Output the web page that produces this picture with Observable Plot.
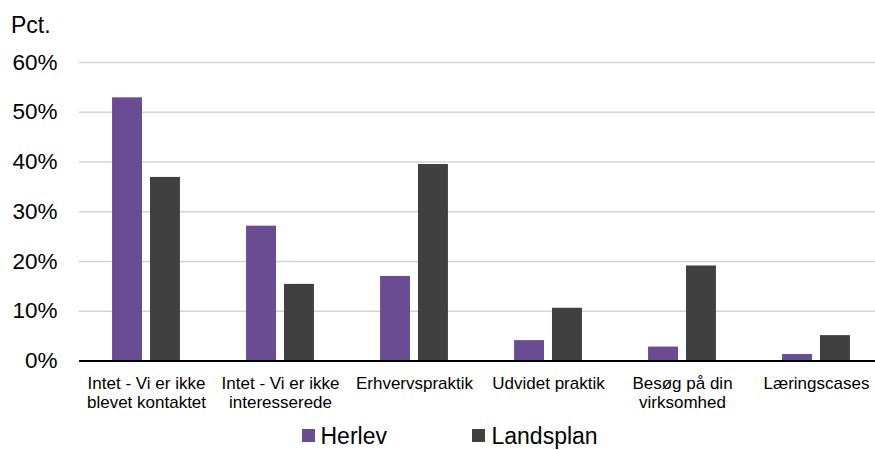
<!DOCTYPE html>
<html><head><meta charset="utf-8">
<script src="https://cdn.jsdelivr.net/npm/d3@7"></script>
<script src="https://cdn.jsdelivr.net/npm/@observablehq/plot@0.6"></script>
<style>
body{margin:0;background:#fff;font-family:"Liberation Sans",Arial,sans-serif;overflow:hidden}
#wrap{position:relative;width:875px;height:450px;overflow:hidden;background:#fff}
#chart{position:absolute;left:0;top:0}
.t{position:absolute;line-height:1;white-space:nowrap;color:#000}
.sw{position:absolute;width:13px;height:13px}
</style></head>
<body>
<div id="wrap">
  <div id="chart"></div>
  <div class="t" id="pct" style="left:11px;top:14px;font-size:23px">Pct.</div>
  <div id="legend"></div>
</div>
<script>
const categories = ["Intet - Vi er ikke\nblevet kontaktet", "Intet - Vi er ikke\ninteresserede", "Erhvervspraktik", "Udvidet praktik", "Besøg på din\nvirksomhed", "Læringscases"];
const series = ["Herlev", "Landsplan"];
const herlev = [0.529, 0.271, 0.170, 0.041, 0.028, 0.013];
const landsplan = [0.369, 0.154, 0.395, 0.106, 0.191, 0.051];
const colors = ["#6A4C93", "#404040"];
const yTicks = [0, 0.1, 0.2, 0.3, 0.4, 0.5, 0.6];

const rows = [];
categories.forEach((c, i) => {
  rows.push({cat: c, series: "Herlev", value: herlev[i]});
  rows.push({cat: c, series: "Landsplan", value: landsplan[i]});
});

const font = "Liberation Sans, Arial, sans-serif";
const chart = Plot.plot({
  width: 875,
  height: 420,
  marginLeft: 78,
  marginRight: 0,
  marginTop: 62,
  marginBottom: 59.5,
  style: {fontFamily: font, background: "white", color: "#000"},
  fx: {domain: categories, padding: 0, range: [78, 883], label: null},
  x: {domain: series, paddingInner: 0.21, paddingOuter: 0.872, round: false, axis: null},
  y: {domain: [0, 0.6], label: null},
  color: {domain: series, range: colors},
  marks: [
    Plot.ruleY(yTicks.filter(d => d > 0), {stroke: "#d4d4d4", strokeWidth: 1.3}),
    Plot.barY(rows, {fx: "cat", x: "series", y: "value", fill: "series"}),
    Plot.ruleY([0], {stroke: "#000", strokeWidth: 2}),
    Plot.axisY({ticks: yTicks, tickFormat: d3.format(".0%"), tickSize: 0, tickPadding: 22, fontSize: 22.5, label: null, fill: "#000"}),
    Plot.axisFx({anchor: "bottom", tickSize: 0, tickPadding: 14, fontSize: 17, lineHeight: 1.12, label: null, fill: "#000"})
  ]
});
document.getElementById("chart").appendChild(chart);

const legend = document.getElementById("legend");
const legendPos = [{sq: 302, tx: 320.5}, {sq: 472, tx: 491.5}];
series.forEach((s, i) => {
  const sq = document.createElement("div");
  sq.className = "sw";
  sq.style.left = legendPos[i].sq + "px";
  sq.style.top = "429px";
  sq.style.background = colors[i];
  legend.appendChild(sq);
  const t = document.createElement("div");
  t.className = "t";
  t.style.left = legendPos[i].tx + "px";
  t.style.top = "425px";
  t.style.fontSize = "23px";
  t.textContent = s;
  legend.appendChild(t);
});
</script>
</body></html>
